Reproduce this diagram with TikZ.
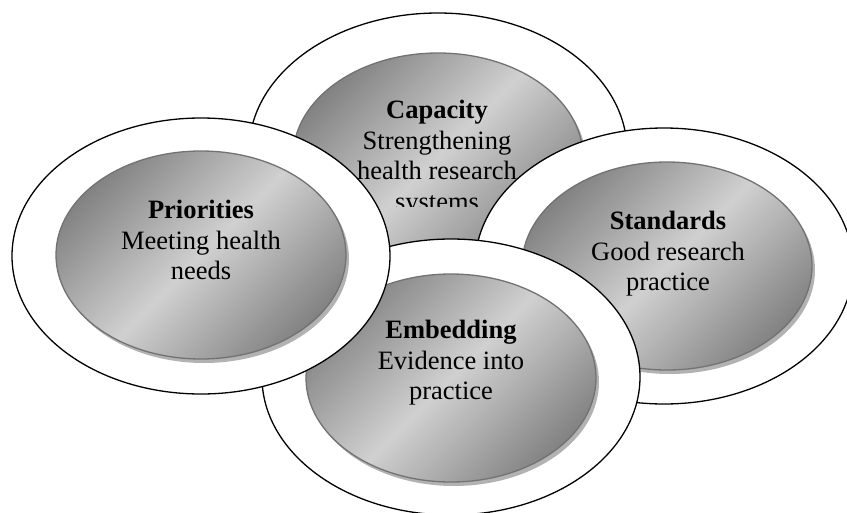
\documentclass[tikz,border=0pt]{standalone}
\usepackage{fontspec}
\setmainfont{Liberation Serif}
\usetikzlibrary{shapes.geometric,shadows}
\definecolor{gdark}{HTML}{838383}
\definecolor{glight}{HTML}{D0D0D0}
\definecolor{rim}{HTML}{727272}
\tikzset{
 outerell/.style={ellipse, draw=black, fill=white, line width=1.3pt, minimum width=378pt, minimum height=276pt, inner sep=0pt},
 innerell/.style={ellipse, draw=rim, line width=1.3pt, minimum width=290pt, minimum height=208pt, inner sep=0pt,
   top color=gdark, bottom color=gdark, middle color=glight, shading angle=45,
   drop shadow={shadow xshift=3pt, shadow yshift=-4pt, fill=black, opacity=0.3}},
 lbl/.style={align=center, anchor=north, inner sep=0pt, font=\fontsize{26.5}{30.5}\selectfont}
}
\begin{document}
\begin{tikzpicture}[x=1pt,y=-1pt]
\useasboundingbox (0,0) rectangle (847,512);
% Capacity
\node[outerell] (capO) at (438,151) {};
\node[innerell] (capI) at (438,157) {};
\begin{scope}
\clip (0,0) rectangle (847,206);
\node[lbl] (capT) at (437,100) {\textbf{Capacity}\\Strengthening\\health research\\systems};
\end{scope}
% Standards
\node[outerell] (stdO) at (664,266) {};
\node[innerell] (stdI) at (667,266) {};
\node[lbl] (stdT) at (668,211) {\textbf{Standards}\\Good research\\practice};
% Embedding
\node[outerell] (embO) at (451,377) {};
\node[innerell] (embI) at (451,378) {};
\node[lbl] (embT) at (451,320) {\textbf{Embedding}\\Evidence into\\practice};
% Priorities
\node[outerell] (priO) at (201,256) {};
\node[innerell] (priI) at (201,255) {};
\node[lbl] (priT) at (201,200) {\textbf{Priorities}\\Meeting health\\needs};
\end{tikzpicture}
\end{document}
